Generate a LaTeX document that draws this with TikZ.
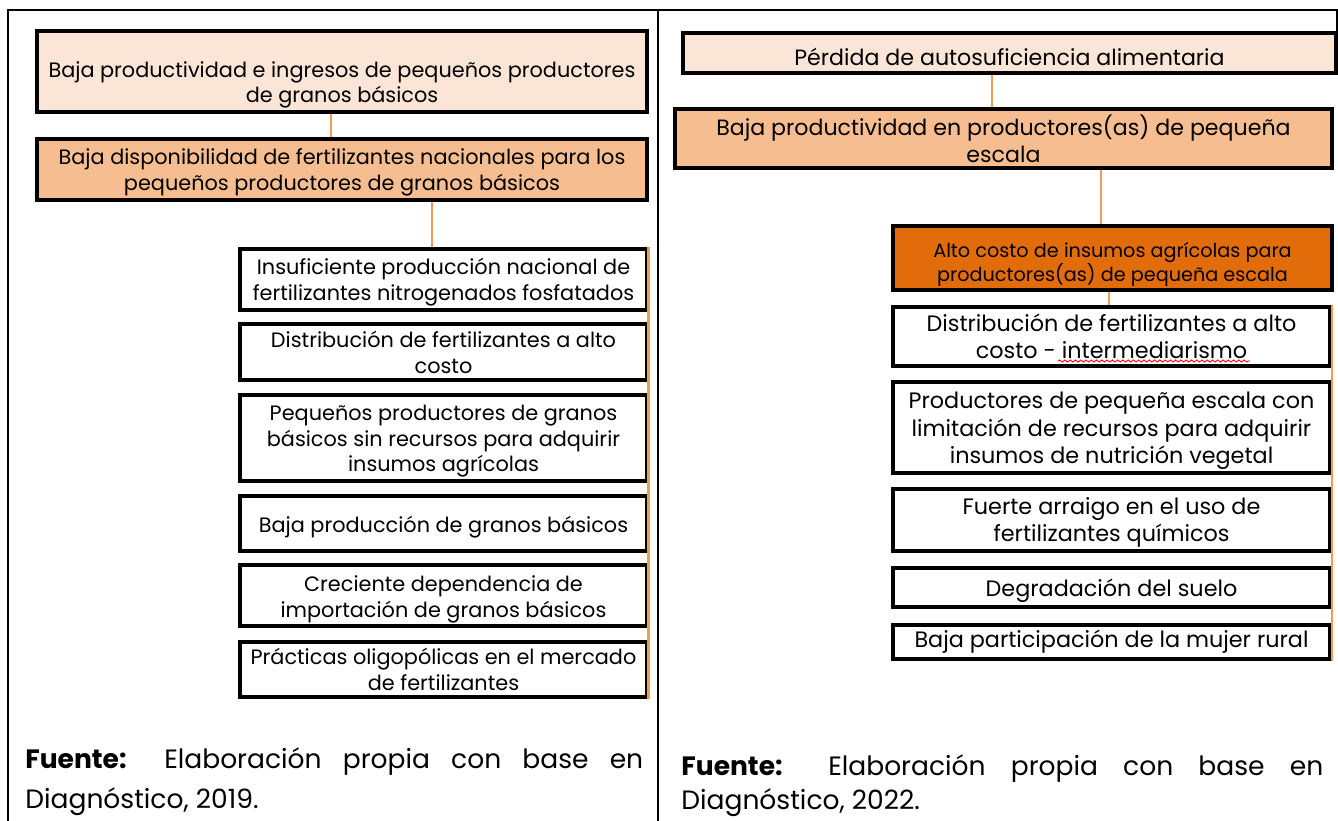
\documentclass[tikz,border=0pt]{standalone}
\usepackage{fontspec}
\setmainfont{Poppins}
\usetikzlibrary{decorations.pathmorphing}
\definecolor{peachlight}{HTML}{FBE5D6}
\definecolor{peach}{HTML}{F6BE90}
\definecolor{darkorange}{HTML}{E36C0A}
\definecolor{linkorange}{HTML}{F59B4E}
% pushes the first line of a box down
\newcommand{\dropline}[1]{\rule{0pt}{#1}}

\begin{document}
\begin{tikzpicture}[x=0.02cm,y=-0.02cm]
    % `effect' is used for the top (effect) boxes, `problem' for the central ones.
    % `cause' is used for the white boxes, `link' for the orange lines.
    \tikzstyle{effect} = [draw,line width=2.1pt,fill=peachlight,align=center,inner sep=2pt,font=\fontsize{11.85}{14.7}\selectfont]
    \tikzstyle{problem} = [effect,fill=peach]
    \tikzstyle{hotspot} = [effect,fill=darkorange,font=\fontsize{10.95}{13.6}\selectfont]
    \tikzstyle{cause} = [effect,fill=white]
    \tikzstyle{causer} = [cause,font=\fontsize{12.7}{15.6}\selectfont]
    \tikzstyle{link} = [draw=linkorange,line width=1.5pt]
    \tikzstyle{frame} = [draw=black,line width=0.9pt]
    \tikzstyle{source} = [inner sep=0pt,anchor=north west,align=justify]
    %
    \useasboundingbox (0,0) rectangle (1338,821);
    % table frame
    \draw[frame] (8,821) -- (8,10) -- (1337,10) -- (1337,32);
    \draw[frame] (658,10) -- (658,821);
    %
    % 2019 tree
    \node[effect,minimum width=12.2cm,minimum height=1.54cm] (efecto) at (342,71.5)
      {\dropline{2.05em}Baja productividad e ingresos de pequeños productores\\de granos básicos};
    \node[problem,minimum width=12.2cm,minimum height=1.1cm] (causa) at (342,169.5)
      {\dropline{1.05em}Baja disponibilidad de fertilizantes nacionales para los\\pequeños productores de granos básicos};
    \node[cause,minimum width=8.14cm,minimum height=1.1cm] (b1) at (443.5,279.5)
      {\dropline{1.05em}Insuficiente producción nacional de\\fertilizantes nitrogenados fosfatados};
    \node[cause,minimum width=8.14cm,minimum height=1.12cm] (b2) at (443.5,352)
      {Distribución de fertilizantes a alto\\costo};
    \node[cause,minimum width=8.14cm,minimum height=1.64cm] (b3) at (443.5,438)
      {\dropline{1.05em}Pequeños productores de granos\\básicos sin recursos para adquirir\\insumos agrícolas};
    \node[cause,minimum width=8.14cm,minimum height=1.1cm] (b4) at (443.5,523.5)
      {\dropline{1.1em}Baja producción de granos básicos};
    \node[cause,minimum width=8.14cm,minimum height=1.1cm] (b5) at (443.5,595.5)
      {\dropline{1.1em}Creciente dependencia de\\importación de granos básicos};
    \node[cause,minimum width=8.14cm,minimum height=1.1cm] (b6) at (443.5,669.5)
      {Prácticas oligopólicas en el mercado\\de fertilizantes};
    \draw[link] ([xshift=-0.22cm]efecto.south) -- ([xshift=-0.22cm]causa.north);
    \draw[link] ([xshift=1.8cm]causa.south) -- ([xshift=1.8cm]causa.south |- b1.north);
    \draw[link] (b1.north east) -- (b6.south east);
    \node[source,text width=12.36cm,font=\fontsize{15.1}{22.7}\selectfont] (fuente1) at (25,747)
      {\textbf{Fuente:} Elaboración propia con base en\linebreak Diagnóstico, 2019.};
    %
    % 2022 tree
    \node[effect,font=\fontsize{12.6}{15.4}\selectfont,minimum width=13.06cm,minimum height=0.8cm] (perdida) at (1009.5,53)
      {\dropline{1.12em}Pérdida de autosuficiencia alimentaria};
    \node[problem,font=\fontsize{12.6}{15.4}\selectfont,minimum width=13.14cm,minimum height=1.18cm] (baja) at (1003.5,138.5)
      {Baja productividad en productores(as) de pequeña\\escala};
    \node[hotspot,minimum width=8.78cm,minimum height=1.2cm] (alto) at (1112.5,258)
      {\dropline{1.45em}Alto costo de insumos agrícolas para\\productores(as) de pequeña escala};
    \node[causer,minimum width=8.74cm,minimum height=1.18cm] (c1) at (1111.5,336.5)
      {Distribución de fertilizantes a alto\\costo - intermediarismo};
    \node[causer,minimum width=8.74cm,minimum height=1.74cm] (c2) at (1111.5,427.5)
      {\dropline{1.05em}Productores de pequeña escala con\\limitación de recursos para adquirir\\insumos de nutrición vegetal};
    \node[causer,minimum width=8.74cm,minimum height=1.2cm] (c3) at (1111.5,520)
      {\dropline{1.0em}Fuerte arraigo en el uso de\\fertilizantes químicos};
    \node[causer,minimum width=8.74cm,minimum height=0.78cm] (c4) at (1111.5,587.5)
      {\dropline{1.05em}Degradación del suelo};
    \node[causer,minimum width=8.74cm,minimum height=0.68cm] (c5) at (1111.5,642)
      {Baja participación de la mujer rural};
    \draw[link] ([xshift=-0.35cm]perdida.south) -- ([xshift=-0.35cm]perdida.south |- baja.north);
    \draw[link] ([xshift=1.95cm]baja.south) -- ([xshift=1.95cm]baja.south |- alto.north);
    \draw[link] ([xshift=-0.07cm]alto.south) -- ([xshift=-0.07cm]alto.south |- c1.north);
    \draw[link] (c1.north east) -- (c5.south east);
    % spell-check mark under the last word
    \draw[red,line width=0.5pt,decorate,decoration={snake,segment length=3pt,amplitude=0.6pt}]
      (1058,361) -- (1250,361);
    \node[source,text width=12.84cm,font=\fontsize{15.1}{19.3}\selectfont] (fuente2) at (681,754)
      {\textbf{Fuente:} Elaboración propia con base en\linebreak Diagnóstico, 2022.};
\end{tikzpicture}
\end{document}
